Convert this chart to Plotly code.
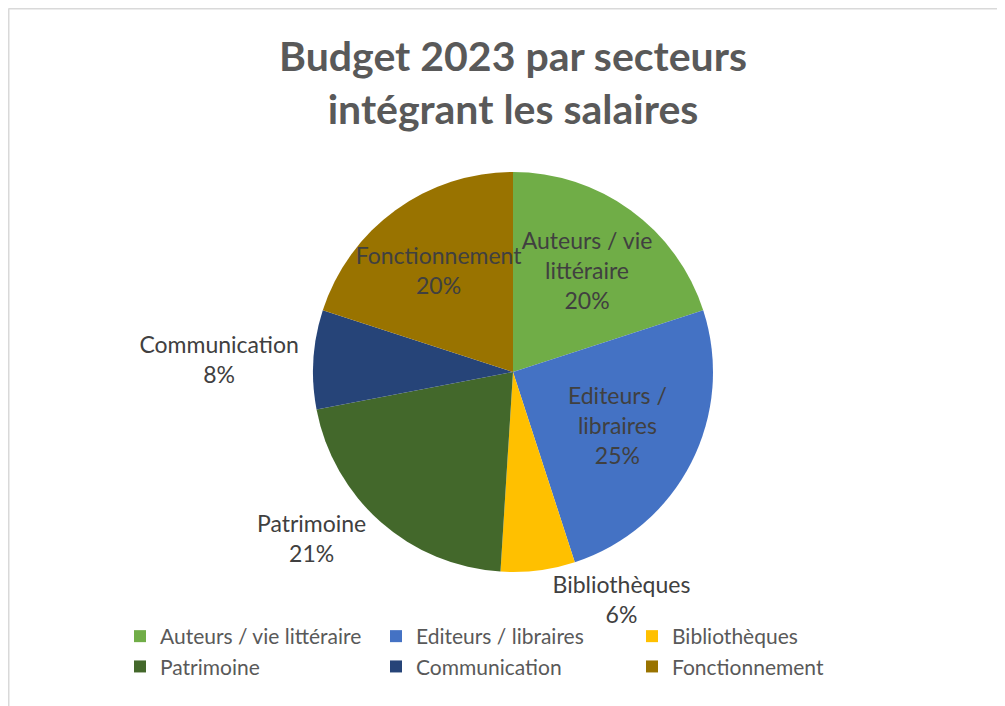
import plotly.graph_objects as go

W, H = 1005, 706
OFF = 8  # page body margin offset

labels = ["Auteurs / vie littéraire", "Editeurs / libraires", "Bibliothèques",
          "Patrimoine", "Communication", "Fonctionnement"]
values = [20, 25, 6, 21, 8, 20]
slice_text = ["Auteurs / vie<br>littéraire", "Editeurs /<br>libraires", "Bibliothèques",
              "Patrimoine", "Communication", "Fonctionnement"]
colors = ["#70AD47", "#4472C4", "#FFC000", "#43682B", "#264478", "#997300"]
positions = ["inside", "inside", "outside", "outside", "outside", "inside"]

cx, cy, r = 513 - OFF, 372 - OFF, 200

fig = go.Figure(go.Pie(
    labels=labels,
    values=values,
    text=slice_text,
    texttemplate="%{text}<br>%{percent:.0%}",
    textposition=positions,
    insidetextorientation="horizontal",
    marker=dict(colors=colors, line=dict(width=0)),
    sort=False,
    direction="clockwise",
    rotation=0,
    textfont=dict(family="Lato", size=23, color="#404040"),
    domain=dict(x=[(cx - r) / W, (cx + r) / W], y=[1 - (cy + r) / H, 1 - (cy - r) / H]),
    hoverinfo="skip",
))

fig.update_layout(
    width=W, height=H,
    margin=dict(l=0, r=0, t=0, b=0, autoexpand=False),
    paper_bgcolor="white",
    font=dict(family="Lato", color="#595959"),
    uniformtext=dict(minsize=23, mode="show"),
    title=dict(
        text="<b>Budget 2023 par secteurs<br>intégrant les salaires</b>",
        x=(513 - OFF) / W, xanchor="center",
        y=1 - (71 - OFF) / H, yanchor="middle",
        font=dict(family="Lato", size=41, color="#595959"),
    ),
    legend=dict(
        orientation="h",
        xref="container", yref="container",
        x=(120 - OFF) / W, xanchor="left",
        y=1 - (616 - OFF) / H, yanchor="top",
        entrywidth=211,
        bgcolor="rgba(0,0,0,0)",
        font=dict(family="Lato", size=21, color="#595959"),
        itemsizing="constant",
    ),
    showlegend=True,
    shapes=[
        dict(type="line", xref="paper", yref="paper",
             x0=0.5 / W, x1=0.5 / W, y0=0, y1=1 - 0.5 / H,
             line=dict(color="#d9d9d9", width=2)),
        dict(type="line", xref="paper", yref="paper",
             x0=0.5 / W, x1=1, y0=1 - 0.5 / H, y1=1 - 0.5 / H,
             line=dict(color="#d9d9d9", width=2)),
    ],
)

fig.write_html("out.html")
